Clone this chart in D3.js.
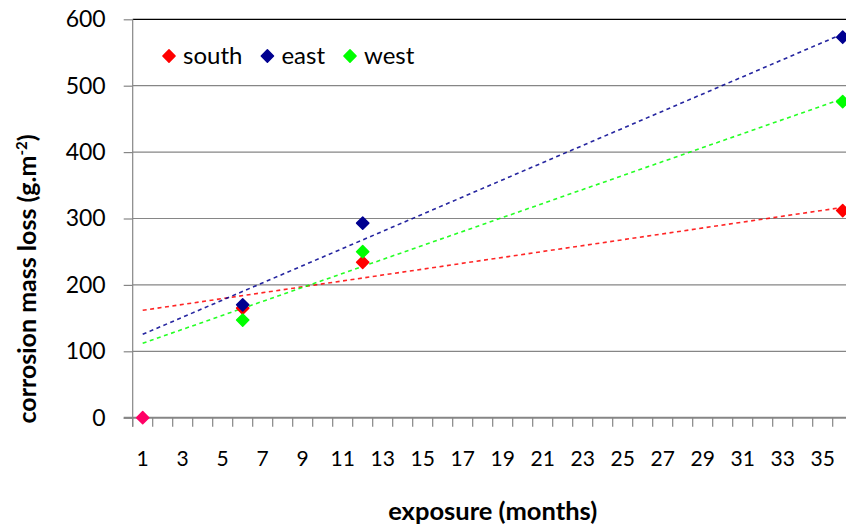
<!DOCTYPE html>
<html>
<head>
<meta charset="utf-8">
<script src="https://cdn.jsdelivr.net/npm/d3@7"></script>
<style>
  body { margin: 0; background: #fff; }
  svg { display: block; font-family: Lato, "Open Sans", sans-serif; }
</style>
</head>
<body>
<svg id="chart" width="846" height="530"></svg>
<script>
// exposure categories on the x axis (months 1..36)
const categories = d3.range(1, 37)
const tickLabels = d3.range(1, 37, 2)
const yTicks = [0, 100, 200, 300, 400, 500, 600]

// measured months and mass loss values
const months = [6, 12, 36]
const south = [165, 234, 312]
const east = [170, 293, 573]
const west = [147, 250, 476]

// starting point (month 1, zero loss)
const startMonth = [1]
const startValue = [0]

const seriesNames = ['south', 'east', 'west']
const seriesColors = ['#ff0000', '#000090', '#00ff00']
const seriesValues = [south, east, west]

const svg = d3.select('#chart')

const x = d3.scaleBand()
    .domain(categories)
    .range([132.7, 852.7])
const xc = (m) => x(m) + x.bandwidth() / 2

const y = d3.scaleLinear()
    .domain([0, 600])
    .range([417.7, 19.3])

// gridlines
svg.append('g').selectAll('line')
    .data(yTicks.filter(d => d > 0))
    .enter().append('line')
    .attr('x1', 132.7).attr('x2', 846)
    .attr('y1', d => y(d)).attr('y2', d => y(d))
    .attr('stroke', d => d === 600 ? '#000' : '#868686')
    .attr('stroke-width', 1.2)

// y axis
const yAxis = svg.append('g')
    .attr('transform', 'translate(132.7,0)')
    .call(d3.axisLeft(y).tickValues(yTicks).tickSize(9).tickPadding(18))
yAxis.select('.domain').remove()
yAxis.selectAll('line').attr('stroke', '#868686').attr('stroke-width', 1.2)
yAxis.selectAll('text')
    .attr('font-size', 23)
    .attr('font-family', 'Lato, sans-serif')
    .attr('fill', '#000')
svg.append('line')
    .attr('x1', 132.7).attr('x2', 132.7)
    .attr('y1', y(600)).attr('y2', y(0) + 9)
    .attr('stroke', '#868686').attr('stroke-width', 1.2)

// x axis line and boundary ticks
svg.append('line')
    .attr('x1', 123.7).attr('x2', 846)
    .attr('y1', y(0)).attr('y2', y(0))
    .attr('stroke', '#868686').attr('stroke-width', 2)
svg.append('g').selectAll('line')
    .data(categories)
    .enter().append('line')
    .attr('x1', d => x(d)).attr('x2', d => x(d))
    .attr('y1', y(0)).attr('y2', y(0) + 9)
    .attr('stroke', '#868686').attr('stroke-width', 1.2)

const xAxis = svg.append('g')
    .attr('transform', `translate(0,${y(0)})`)
    .call(d3.axisBottom(x).tickValues(tickLabels).tickSize(0).tickPadding(33))
xAxis.select('.domain').remove()
xAxis.selectAll('text')
    .attr('font-size', 21)
    .attr('font-family', 'Lato, sans-serif')
    .attr('fill', '#000')

// trend lines (least squares over measured points)
const fit = (xs, ys) => {
    const mx = d3.mean(xs), my = d3.mean(ys)
    const sxy = d3.sum(xs, (v, i) => (v - mx) * (ys[i] - my))
    const sxx = d3.sum(xs, v => (v - mx) * (v - mx))
    const b = sxy / sxx
    return m => my + b * (m - mx)
}
const first = categories[0], last = categories[categories.length - 1]
seriesValues.forEach((vals, i) => {
    const f = fit(months, vals)
    svg.append('line')
        .attr('x1', xc(first)).attr('y1', y(f(first)))
        .attr('x2', xc(last)).attr('y2', y(f(last)))
        .attr('stroke', seriesColors[i])
        .attr('stroke-width', 1.6)
        .attr('stroke-dasharray', '4,3.5')
        .attr('opacity', 0.85)
})

// markers
const diamond = d3.symbol().type(d3.symbolDiamond2).size(95)
const drawMarker = (sel, color) => sel
    .attr('d', diamond)
    .attr('fill', color)
    .attr('stroke', color)
    .attr('stroke-width', 1.5)
    .attr('stroke-linejoin', 'round')

seriesValues.forEach((vals, i) => {
    svg.append('g').selectAll('path')
        .data(vals)
        .enter().append('path')
        .attr('transform', (d, j) => `translate(${xc(months[j])},${y(d)})`)
        .call(drawMarker, seriesColors[i])
})
svg.append('g').selectAll('path')
    .data(startValue)
    .enter().append('path')
    .attr('transform', (d, j) => `translate(${xc(startMonth[j])},${y(d)})`)
    .call(drawMarker, '#ff0066')

// legend
let lx = 169
seriesNames.forEach((name, i) => {
    svg.append('path')
        .attr('transform', `translate(${lx},56)`)
        .call(drawMarker, seriesColors[i])
    const t = svg.append('text')
        .attr('x', lx + 14).attr('y', 64)
        .attr('font-size', 24)
        .text(name)
    lx = lx + 14 + t.node().getComputedTextLength() + 25
})

// axis titles
svg.append('text')
    .attr('x', 492.7).attr('y', 520)
    .attr('text-anchor', 'middle')
    .attr('font-size', 25.5)
    .attr('font-weight', 'bold')
    .text('exposure (months)')

const yt = svg.append('text')
    .attr('transform', 'translate(36,279) rotate(-90)')
    .attr('text-anchor', 'middle')
    .attr('font-size', 25)
    .attr('font-weight', 'bold')
yt.append('tspan').text('corrosion mass loss (g.m')
yt.append('tspan').attr('dy', -9).attr('font-size', 15).text('-2')
yt.append('tspan').attr('dy', 9).text(')')
</script>
</body>
</html>
